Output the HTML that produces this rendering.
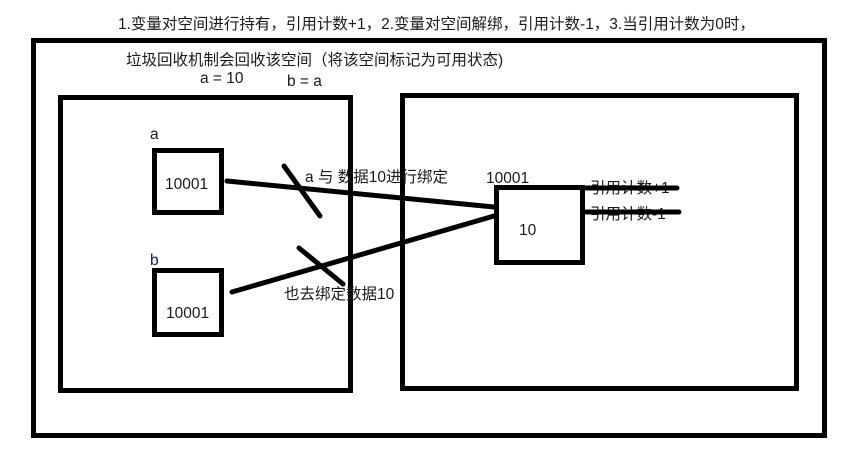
<!DOCTYPE html>
<html><head><meta charset="utf-8"><style>
html,body{margin:0;padding:0;background:#fff;}
svg text{font-family:"Liberation Sans","Noto Sans CJK SC",sans-serif;font-size:15.5px;fill:#1a1a1a;}
</style></head><body>
<svg width="851" height="468" viewBox="0 0 851 468" xmlns="http://www.w3.org/2000/svg">
<g fill="none" stroke="#000" stroke-width="5">
<rect x="33.5" y="40.5" width="791" height="395"/>
<rect x="60.5" y="97.5" width="290" height="293"/>
<rect x="402.5" y="95.5" width="394" height="293"/>
<rect x="154.5" y="150.5" width="67" height="62"/>
<rect x="154.5" y="270.5" width="67" height="64"/>
<rect x="496.5" y="187.5" width="86" height="75"/>
</g>
<g stroke="#000" stroke-width="5" stroke-linecap="round">
<line x1="227" y1="181" x2="494" y2="207"/>
<line x1="232" y1="292" x2="494" y2="216"/>
<line x1="284" y1="166" x2="320" y2="216"/>
<line x1="299" y1="248" x2="343" y2="284"/>
</g>
<text x="118" y="29">1.变量对空间进行持有，引用计数+1，2.变量对空间解绑，引用计数-1，3.当引用计数为0时，</text>
<text x="126" y="65">垃圾回收机制会回收该空间（将该空间标记为可用状态)</text>
<text x="200" y="83">a = 10</text>
<text x="287" y="86">b = a</text>
<text x="150" y="139">a</text>
<text x="150" y="265" style="fill:#0b1a4a">b</text>
<text x="165" y="189">10001</text>
<text x="166" y="318">10001</text>
<text x="305" y="182">a 与 数据10进行绑定</text>
<text x="284" y="299">也去绑定数据10</text>
<text x="486" y="183">10001</text>
<text x="519" y="235">10</text>
<text x="590" y="193">引用计数+1</text>
<text x="590" y="219">引用计数-1</text>
<g stroke="#000" stroke-width="5" stroke-linecap="round">
<line x1="586" y1="188" x2="677" y2="188"/>
<line x1="586" y1="212" x2="679" y2="212"/>
</g>
</svg>
</body></html>
